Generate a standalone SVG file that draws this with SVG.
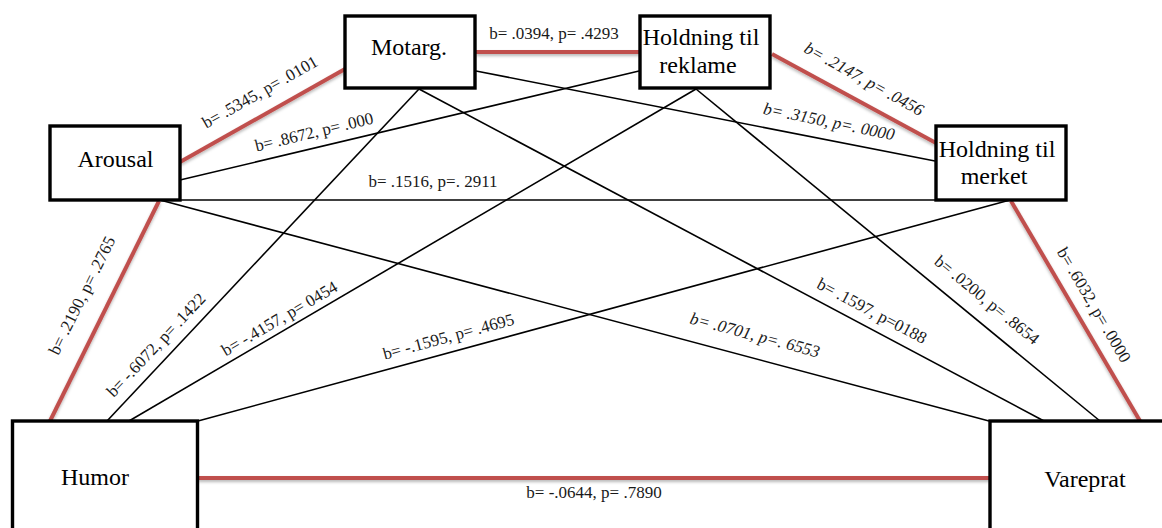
<svg xmlns="http://www.w3.org/2000/svg" width="1162" height="528" viewBox="0 0 1162 528">
  <style>
    .box { fill: #ffffff; stroke: #000000; stroke-width: 3.4; }
    .name { font-family: "Liberation Serif", "Times New Roman", serif; font-size: 24px; fill: #000000; text-anchor: middle; }
    .lbl { font-family: "Liberation Serif", "Times New Roman", serif; font-size: 17px; fill: #1a1a1a; text-anchor: middle; }
    .it { font-style: italic; }
    .sig { stroke: #c0504d; stroke-width: 4; stroke-linecap: butt; fill: none; }
    .ns { stroke: #000000; stroke-width: 1.6; fill: none; }
  </style>
  <defs>
    <filter id="shadow" x="-10%" y="-50%" width="120%" height="200%">
      <feDropShadow dx="0" dy="2" stdDeviation="1.6" flood-color="#000000" flood-opacity="0.28"/>
    </filter>
  </defs>

  <rect width="1162" height="528" fill="#ffffff"/>

  <!-- connectors: red = significant paths, black = non-significant -->
  <g id="connectors">
    <g filter="url(#shadow)">
      <line class="sig" x1="180" y1="162" x2="345" y2="69"/>
      <line class="sig" x1="476" y1="52" x2="640" y2="52"/>
      <line class="sig" x1="772" y1="54" x2="936" y2="143"/>
      <line class="sig" x1="159" y1="201" x2="50" y2="421"/>
      <line class="sig" x1="1011" y1="201" x2="1140" y2="421"/>
      <line class="sig" x1="198" y1="478" x2="990" y2="478"/>
    </g>
    <line class="ns" x1="180" y1="180" x2="639" y2="71"/>
    <line class="ns" x1="180" y1="200" x2="935" y2="200"/>
    <line class="ns" x1="160" y1="200" x2="989" y2="421"/>
    <line class="ns" x1="419" y1="89" x2="107" y2="421"/>
    <line class="ns" x1="419" y1="89" x2="1044" y2="421"/>
    <line class="ns" x1="696" y1="89" x2="129" y2="421"/>
    <line class="ns" x1="696" y1="89" x2="1100" y2="421"/>
    <line class="ns" x1="476" y1="71" x2="935" y2="161"/>
    <line class="ns" x1="1010" y1="200" x2="198" y2="421"/>

    <!-- path coefficients -->
    <text class="lbl" x="260" y="92" dy="0.33em" transform="rotate(-29.5 260 92)">b= .5345, p= .0101</text>
    <text class="lbl" x="314" y="132" dy="0.33em" transform="rotate(-13.5 314 132)">b= .8672, p= .000</text>
    <text class="lbl" x="433" y="187">b= .1516, p=. 2911</text>
    <text class="lbl" x="554" y="39">b= .0394, p= .4293</text>
    <text class="lbl it" x="864" y="79" dy="0.33em" transform="rotate(29 864 79)">b= .2147, p= .0456</text>
    <text class="lbl it" x="829" y="121.5" dy="0.33em" transform="rotate(11.5 829 121.5)">b= .3150, p=. 0000</text>
    <text class="lbl" x="82" y="295.5" dy="0.33em" transform="rotate(-63.6 82 295.5)">b= .2190, p= .2765</text>
    <text class="lbl" x="156" y="345" dy="0.33em" transform="rotate(-46.7 156 345)">b= -.6072, p= .1422</text>
    <text class="lbl" x="279.5" y="318.5" dy="0.33em" transform="rotate(-30.4 279.5 318.5)">b= -.4157, p= 0454</text>
    <text class="lbl" x="448.5" y="336.5" dy="0.33em" transform="rotate(-15.2 448.5 336.5)">b= -.1595, p= .4695</text>
    <text class="lbl it" x="755" y="335" dy="0.33em" transform="rotate(14.9 755 335)">b= .0701, p=. 6553</text>
    <text class="lbl" x="872" y="311" dy="0.33em" transform="rotate(27.9 872 311)">b= .1597, p=0188</text>
    <text class="lbl" x="987" y="300" dy="0.33em" transform="rotate(39.4 987 300)">b= .0200, p= .8654</text>
    <text class="lbl" x="1094" y="305" dy="0.33em" transform="rotate(59.7 1094 305)">b= .6032, p= .0000</text>
    <text class="lbl" x="594" y="498">b= -.0644, p= .7890</text>
  </g>

  <!-- variables -->
  <g id="motarg">
    <rect class="box" x="345" y="16" width="130" height="72"/>
    <text class="name" x="409" y="55">Motarg.</text>
  </g>
  <g id="holdning-reklame">
    <rect class="box" x="640" y="16" width="130" height="72"/>
    <text class="name" x="701" y="45">Holdning til</text>
    <text class="name" x="698" y="73">reklame</text>
  </g>
  <g id="arousal">
    <rect class="box" x="50" y="126" width="130" height="74"/>
    <text class="name" x="115.5" y="167">Arousal</text>
  </g>
  <g id="holdning-merket">
    <rect class="box" x="936" y="126" width="130" height="74"/>
    <text class="name" x="997" y="157">Holdning til</text>
    <text class="name" x="994" y="184">merket</text>
  </g>
  <g id="humor">
    <rect class="box" x="12.5" y="421" width="185" height="130"/>
    <text class="name" x="95" y="485">Humor</text>
  </g>
  <g id="vareprat">
    <rect class="box" x="990" y="421" width="200" height="130"/>
    <text class="name" x="1085" y="487">Vareprat</text>
  </g>
</svg>
